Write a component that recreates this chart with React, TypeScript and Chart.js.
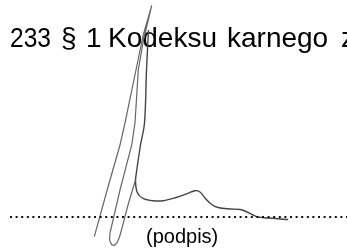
import React, { useEffect, useRef } from "react";
import { Chart, registerables } from "chart.js";

Chart.register(...registerables);

// Printed text (words of the justified line) and caption
const headlineWords = ["233", "§", "1", "Kodeksu", "karnego", "z"];
const captionText = "(podpis)";

// Signature – straight strokes (up, down, loop, up)
const strokeX = [94.3, 108, 120, 125, 136, 143, 151.7, 143.5, 138.3, 135, 131.7, 120, 110, 109.5, 111.5, 114, 117, 119.5, 122, 128, 135.5];
const strokeY = [236.7, 187, 145, 123, 70, 36, 5.5, 40, 70, 123, 145, 190, 233, 240, 244.5, 245.5, 243, 237, 228, 205, 180];

// Signature – right stroke curving into the tail
const tailX = [148.5, 146.5, 144.5, 140.5, 136.5, 135.5, 137.5, 143, 153, 163, 176, 188, 195, 200, 205, 211.7, 218, 230, 240, 246, 252, 257, 264, 273, 283, 288];
const tailY = [30, 70, 123, 145, 172, 182, 193, 198.3, 200.7, 200.7, 197.5, 193.3, 190.7, 192, 198, 204.5, 207.5, 209, 209.5, 211.5, 214.5, 216.7, 217.7, 218.3, 219.3, 219.5];

// Dotted signature line
const dottedX = [10, 347];
const dottedY = [217, 217];

const pts = (xs: number[], ys: number[]) => xs.map((x, i) => ({ x, y: ys[i] }));

const textPlugin = {
  id: "docText",
  beforeDatasetsDraw(chart: any) {
    const { ctx } = chart;
    ctx.save();
    ctx.fillStyle = "#000000";
    ctx.textBaseline = "alphabetic";
    ctx.font = "28px 'Liberation Sans', Arial, sans-serif";
    const xs = [10, 61, 86, 108, 227, 341];
    const maxW = [41, 20, 20, 120, 120, 30];
    headlineWords.forEach((w, i) => ctx.fillText(w, xs[i], 47, maxW[i]));
    ctx.font = "20px 'Liberation Sans', Arial, sans-serif";
    ctx.fillText(captionText, 146, 243);
    ctx.restore();
  },
};

const bgPlugin = {
  id: "bg",
  beforeDraw(chart: any) {
    const { ctx, width, height } = chart;
    ctx.save();
    ctx.fillStyle = "#ffffff";
    ctx.fillRect(0, 0, width, height);
    ctx.restore();
  },
};

export default function App() {
  const ref = useRef<HTMLCanvasElement | null>(null);
  useEffect(() => {
    if (!ref.current) return;
    const chart = new Chart(ref.current, {
      type: "scatter",
      data: {
        datasets: [
          {
            data: pts(dottedX, dottedY),
            showLine: true,
            borderColor: "#111111",
            borderWidth: 2,
            borderDash: [2, 3.6],
            borderCapStyle: "butt",
            pointRadius: 0,
          },
          {
            data: pts(strokeX, strokeY),
            showLine: true,
            borderColor: "#666666",
            borderWidth: 1.2,
            tension: 0,
            pointRadius: 0,
          },
          {
            data: pts(tailX, tailY),
            showLine: true,
            borderColor: "#444444",
            borderWidth: 1.4,
            tension: 0.35,
            pointRadius: 0,
          },
        ],
      },
      options: {
        animation: false,
        responsive: false,
        devicePixelRatio: 1,
        layout: { padding: 0 },
        plugins: { legend: { display: false }, tooltip: { enabled: false } },
        events: [],
        scales: {
          x: { type: "linear", min: 0, max: 347, display: false },
          y: { type: "linear", min: 0, max: 248, reverse: true, display: false },
        },
      },
      plugins: [bgPlugin, textPlugin],
    } as any);
    return () => chart.destroy();
  }, []);
  return (
    <div style={{ position: "fixed", left: 0, top: 0, width: 347, height: 248, background: "#fff" }}>
      <canvas ref={ref} width={347} height={248} style={{ display: "block" }} />
    </div>
  );
}
